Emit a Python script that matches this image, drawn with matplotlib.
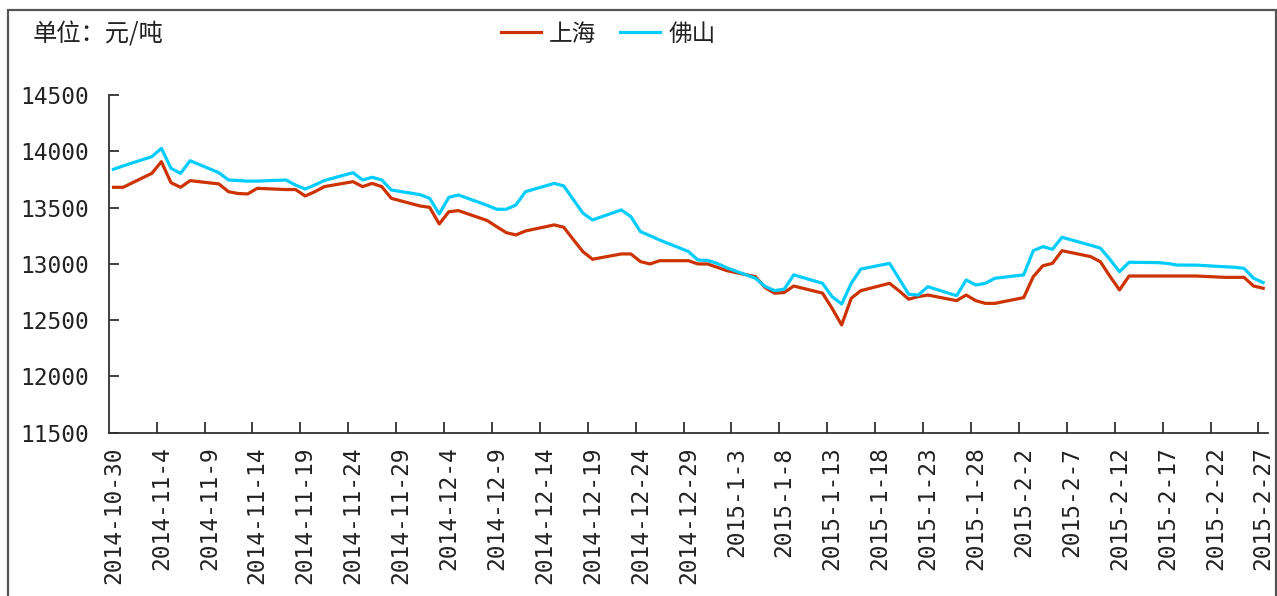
import matplotlib
matplotlib.use("Agg")
import matplotlib.pyplot as plt
import numpy as np
import pandas as pd
from matplotlib.patches import Rectangle

plt.rcParams['font.family'] = ['Noto Sans CJK SC', 'DejaVu Sans']

# ---- data ----
start_date = "2014-10-30"
end_date = "2015-02-27"
shanghai = [
    13680, 13680,
    13804, 13908, 13721, 13680, 13739,
    13710, 13641, 13625, 13621, 13671,
    13660, 13660, 13603, 13640, 13686,
    13730, 13686, 13715, 13686, 13582,
    13514, 13502, 13354, 13463, 13473,
    13385, 13330, 13277, 13257, 13292,
    13346, 13325, 13215, 13108, 13041,
    13088, 13088, 13020, 12999, 13028,
    13028, 12999, 12999, 12970, 12940,
    12886, 12790, 12739, 12745, 12803,
    12740, 12605, 12457, 12694, 12762,
    12827, 12760, 12686, 12709, 12723,
    12673, 12723, 12673, 12649, 12649,
    12700, 12886, 12983, 13004, 13117,
    13064, 13019, 12890, 12768, 12892,
    12892, 12892, 12892, 12892, 12892,
    12880, 12880, 12880, 12803, 12783,
]
foshan = [
    13840, 13870,
    13952, 14026, 13849, 13804, 13916,
    13810, 13745, 13740, 13735, 13735,
    13745, 13700, 13665, 13700, 13740,
    13810, 13745, 13769, 13745, 13656,
    13615, 13582, 13443, 13591, 13612,
    13520, 13485, 13485, 13523, 13641,
    13715, 13692, 13570, 13450, 13390,
    13479, 13420, 13286, 13250, 13212,
    13110, 13034, 13030, 13005, 12965,
    12872, 12800, 12762, 12775, 12902,
    12827, 12709, 12643, 12827, 12954,
    13004, 12867, 12730, 12723, 12797,
    12717, 12857, 12812, 12827, 12872,
    12902, 13117, 13153, 13129, 13236,
    13165, 13140, 13040, 12930, 13014,
    13011, 13004, 12989, 12989, 12989,
    12974, 12970, 12960, 12872, 12833,
]
tick_labels = [
    "2014-10-30", "2014-11-4", "2014-11-9", "2014-11-14", "2014-11-19",
    "2014-11-24", "2014-11-29", "2014-12-4", "2014-12-9", "2014-12-14",
    "2014-12-19", "2014-12-24", "2014-12-29", "2015-1-3", "2015-1-8",
    "2015-1-13", "2015-1-18", "2015-1-23", "2015-1-28", "2015-2-2",
    "2015-2-7", "2015-2-12", "2015-2-17", "2015-2-22", "2015-2-27",
]
y_ticks = [11500, 12000, 12500, 13000, 13500, 14000, 14500]
series_names = ["上海", "佛山"]
unit_text = "单位：元/吨"

# ---- build ----
dates = pd.bdate_range(start_date, end_date)
t0 = pd.Timestamp(start_date)
x = np.array([(d - t0).days for d in dates])
n_days = (pd.Timestamp(end_date) - t0).days

W, H = 1277, 596
fig = plt.figure(figsize=(W / 100, H / 100), dpi=100)
ax = fig.add_axes([108.7 / W, 1 - 432.7 / H, (1268 - 108.7) / W, (432.7 - 95) / H])

c_sh = "#CC3300"
c_fs = "#00CCFF"
l1, = ax.plot(x, shanghai, color=c_sh, lw=2.3, solid_joinstyle="round")
l2, = ax.plot(x, foshan, color=c_fs, lw=2.3, solid_joinstyle="round")

ax.set_xlim(-0.5, n_days + 0.5)
ax.set_ylim(y_ticks[0], y_ticks[-1])

for s in ["top", "right"]:
    ax.spines[s].set_visible(False)
for s in ["left", "bottom"]:
    ax.spines[s].set_color("#303030")
    ax.spines[s].set_linewidth(1.3)

mono = "DejaVu Sans Mono"

ax.set_yticks(y_ticks)
ax.set_yticklabels([str(v) for v in y_ticks], family=mono)
ax.tick_params(axis="y", direction="in", length=7, width=1.3, color="#303030",
               pad=14, labelsize=16.5, labelcolor="#222222")

ax.set_xticks(np.arange(4.5, n_days, 5))
ax.set_xticklabels([])
ax.tick_params(axis="x", which="major", direction="in", length=8, width=1.3, color="#303030")
ax.set_xticks(np.arange(0, n_days + 1, 5), minor=True)
ax.set_xticklabels(tick_labels, minor=True, rotation=90, va="top", ha="center", family=mono)
ax.tick_params(axis="x", which="minor", length=0, pad=10, labelsize=16.5, labelcolor="#222222")

fig.text(33 / W, 1 - 34 / H, unit_text, fontsize=17.5, va="center", ha="left", color="#222222")

fig.legend([l1, l2], series_names, loc="center", bbox_to_anchor=(608 / W, 1 - 34 / H),
           ncol=2, frameon=False, fontsize=17, handlelength=1.7, handletextpad=0.35,
           columnspacing=1.0, labelcolor="#222222")

fig.patches.append(Rectangle((7.5 / W, -0.02), (1275.5 - 7.5) / W, 1.02 - 10.5 / H,
                             transform=fig.transFigure, fill=False,
                             edgecolor="#555555", lw=1.6))

fig.savefig("out.png", dpi=100)
